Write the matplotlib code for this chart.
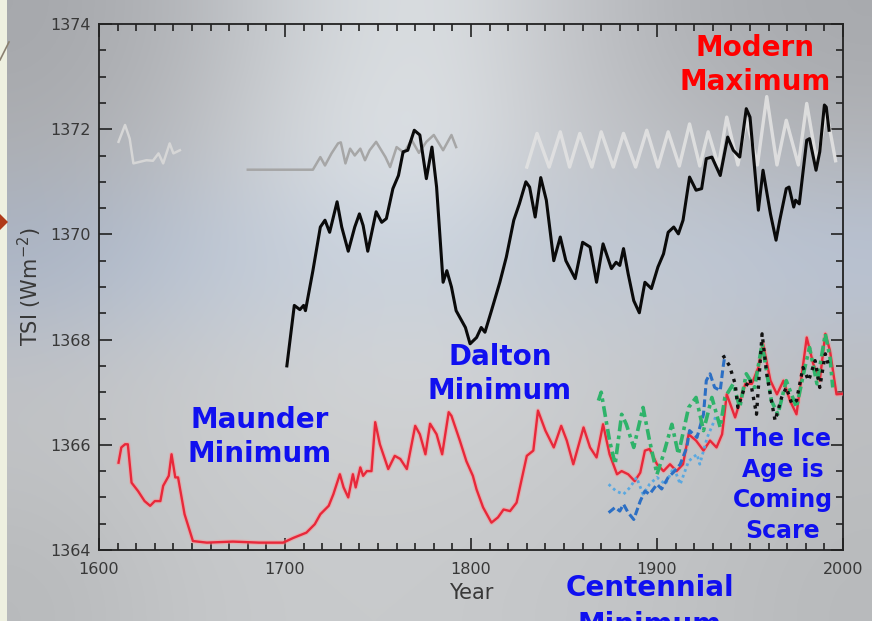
import matplotlib
matplotlib.use("Agg")
import matplotlib.pyplot as plt
import numpy as np
from matplotlib.patches import Rectangle, Polygon
from matplotlib.lines import Line2D

# --- data (year, TSI in W/m2) ---
black_years = [1701, 1705, 1708, 1710, 1711, 1715, 1719, 1721.5, 1724, 1728,
               1730.5, 1734, 1737.5, 1740, 1742, 1744.5, 1749, 1752, 1754.5, 1758,
               1761, 1763.5, 1766, 1769.5, 1772.5, 1776, 1779, 1781.5, 1785, 1787,
               1789.5, 1792, 1797, 1799.5, 1803, 1805.5, 1807.5, 1811, 1815.5, 1819,
               1823, 1826, 1829.5, 1831.5, 1834.5, 1837.5, 1840.5, 1844.5, 1848, 1851,
               1856, 1860, 1864, 1867.5, 1871, 1875.5, 1878, 1880, 1882, 1884.5,
               1887.5, 1890.5, 1893.5, 1897, 1900.5, 1903.5, 1906, 1909, 1911.5, 1914,
               1917.5, 1921, 1924, 1926.5, 1929.5, 1934, 1938, 1941, 1944.5, 1948,
               1950, 1954.5, 1957, 1961, 1964, 1966, 1969.5, 1971, 1973.5, 1974.5,
               1976.5, 1980.5, 1982, 1985.5, 1987.5, 1990, 1991, 1992.5]
black_tsi = [1367.50, 1368.65, 1368.57, 1368.65, 1368.55, 1369.31, 1370.14, 1370.27, 1370.04, 1370.62,
             1370.14, 1369.68, 1370.14, 1370.39, 1370.17, 1369.68, 1370.43, 1370.23, 1370.30, 1370.87,
             1371.12, 1371.57, 1371.60, 1371.98, 1371.89, 1371.06, 1371.66, 1370.90, 1369.09, 1369.31,
             1369.00, 1368.55, 1368.23, 1367.92, 1368.04, 1368.23, 1368.14, 1368.55, 1369.09, 1369.57,
             1370.27, 1370.58, 1371.00, 1370.90, 1370.33, 1371.08, 1370.65, 1369.50, 1369.95, 1369.50,
             1369.16, 1369.85, 1369.76, 1369.09, 1369.82, 1369.35, 1369.47, 1369.41, 1369.73, 1369.25,
             1368.74, 1368.51, 1369.09, 1368.97, 1369.38, 1369.63, 1370.04, 1370.14, 1370.01, 1370.27,
             1371.09, 1370.84, 1370.87, 1371.44, 1371.47, 1371.12, 1371.85, 1371.60, 1371.47, 1372.39,
             1372.23, 1370.46, 1371.22, 1370.39, 1369.89, 1370.27, 1370.87, 1370.90, 1370.52, 1370.65,
             1370.58, 1371.79, 1371.82, 1371.22, 1371.57, 1372.46, 1372.42, 1371.98]

red_years = [1610.5, 1612, 1614, 1615.5, 1617.5, 1621, 1624.5, 1627.5, 1630, 1633,
             1634.5, 1637.5, 1639, 1641, 1642.5, 1646, 1650.5, 1658, 1672, 1686,
             1699, 1704.5, 1711.5, 1716, 1719, 1723.5, 1726, 1729.5, 1731.5, 1734,
             1736.5, 1738, 1740.5, 1742, 1744, 1746.5, 1748.5, 1751, 1755.5, 1759,
             1762, 1765.5, 1770, 1772.5, 1775.5, 1778, 1781.5, 1784.5, 1788, 1789.5,
             1794, 1797.5, 1801, 1803, 1806.5, 1811, 1814.5, 1817.5, 1821, 1824.5,
             1830, 1833.5, 1836, 1840, 1844.5, 1848.5, 1851.5, 1855, 1860.5, 1864,
             1867.5, 1871, 1874.5, 1878.5, 1881, 1884.5, 1888, 1891, 1893.5, 1896,
             1900, 1903.5, 1907, 1910.5, 1914, 1917, 1921, 1925, 1928.5, 1932,
             1935, 1937.5, 1942, 1947.5, 1951, 1954.5, 1957, 1961, 1964.5, 1968,
             1971.5, 1975, 1980.5, 1984, 1987.5, 1990.5, 1993, 1996.5, 2000]
red_tsi = [1365.66, 1365.95, 1366.01, 1366.01, 1365.28, 1365.12, 1364.93, 1364.84, 1364.93, 1364.93,
           1365.22, 1365.41, 1365.82, 1365.38, 1365.38, 1364.68, 1364.17, 1364.14, 1364.16, 1364.14,
           1364.14, 1364.23, 1364.33, 1364.49, 1364.68, 1364.84, 1365.06, 1365.44, 1365.19, 1365.00,
           1365.44, 1365.19, 1365.57, 1365.41, 1365.50, 1365.50, 1366.43, 1366.01, 1365.54, 1365.79,
           1365.73, 1365.54, 1366.36, 1366.20, 1365.82, 1366.40, 1366.20, 1365.82, 1366.62, 1366.55,
           1366.08, 1365.69, 1365.41, 1365.15, 1364.81, 1364.52, 1364.62, 1364.77, 1364.74, 1364.90,
           1365.79, 1365.89, 1366.65, 1366.27, 1365.95, 1366.36, 1366.08, 1365.63, 1366.33, 1365.95,
           1365.76, 1366.39, 1365.82, 1365.44, 1365.50, 1365.44, 1365.31, 1365.47, 1365.89, 1365.92,
           1365.63, 1365.50, 1365.63, 1365.50, 1365.63, 1366.20, 1366.08, 1365.89, 1366.08, 1365.95,
           1366.20, 1366.96, 1366.52, 1367.16, 1367.16, 1367.47, 1367.92, 1367.22, 1366.96, 1367.22,
           1366.84, 1366.58, 1368.04, 1367.54, 1367.22, 1368.11, 1367.79, 1366.96, 1366.97]

green_years = [1868.5, 1870, 1874.5, 1877.5, 1881, 1883.5, 1887.5, 1892.5, 1896, 1900,
               1903.5, 1908, 1911.5, 1917, 1921, 1925, 1929.5, 1934, 1936.5, 1941,
               1944.5, 1948, 1952.5, 1956.5, 1961.5, 1965, 1969.5, 1975, 1979.5, 1982,
               1986, 1990.5, 1993, 1994.5]
green_tsi = [1366.84, 1367.00, 1366.08, 1365.63, 1366.58, 1366.39, 1365.95, 1366.71, 1366.08, 1365.44,
             1365.82, 1366.39, 1365.82, 1366.71, 1366.90, 1366.27, 1366.90, 1366.33, 1366.90, 1367.16,
             1366.71, 1367.35, 1367.09, 1367.92, 1366.84, 1366.58, 1367.22, 1366.71, 1367.47, 1367.85,
             1367.16, 1368.11, 1367.66, 1367.09]

blue_years = [1874, 1877.5, 1880, 1882, 1884.5, 1887.5, 1891, 1893.5, 1896, 1900,
              1902.5, 1906, 1909.5, 1912.5, 1916, 1917.5, 1921.5, 1925, 1926.5, 1928.5,
              1931, 1934, 1935.5, 1936.5]
blue_tsi = [1364.71, 1364.81, 1364.74, 1364.87, 1364.71, 1364.58, 1364.93, 1365.12, 1365.06, 1365.25,
            1365.16, 1365.38, 1365.50, 1365.63, 1365.95, 1366.27, 1366.14, 1366.58, 1367.22, 1367.35,
            1367.09, 1367.03, 1367.47, 1367.70]

ltblue_years = [1874, 1878, 1882, 1885.5, 1889, 1892.5, 1896, 1900, 1904.5, 1909,
                1912.5, 1917, 1921.5, 1923, 1927, 1930, 1932]
ltblue_tsi = [1365.25, 1365.12, 1365.06, 1365.19, 1365.38, 1365.06, 1365.25, 1365.38, 1365.25, 1365.57,
              1365.25, 1365.69, 1365.82, 1365.63, 1366.14, 1366.39, 1366.58]

dotted_years = [1935.5, 1939, 1942, 1943.5, 1946.5, 1950, 1953.5, 1956.5, 1959, 1961.5,
                1963.5, 1967, 1969.5, 1972.5, 1975, 1978.5, 1981.5, 1985, 1987.5, 1990.5, 1992]
dotted_tsi = [1367.70, 1367.50, 1367.16, 1366.71, 1367.03, 1367.25, 1366.58, 1368.11, 1367.35, 1366.84,
              1366.46, 1366.90, 1367.09, 1366.78, 1366.84, 1367.47, 1367.22, 1367.60, 1367.09, 1367.73, 1367.54]

# faint grey reconstructions in the upper part
grey1_years = [1610.5, 1614, 1616.5, 1618.5, 1622, 1625.5, 1629, 1632, 1634.5, 1638, 1640, 1643.5]
grey1_tsi = [1371.76, 1372.08, 1371.82, 1371.35, 1371.38, 1371.41, 1371.40, 1371.54, 1371.35, 1371.73,
             1371.54, 1371.60]

grey2_years = [1680, 1715, 1719, 1721.5, 1725, 1728.5, 1730, 1732.5, 1735, 1737.5,
               1740.5, 1743, 1745.5, 1749, 1754, 1756.5, 1760, 1764, 1768, 1772,
               1776, 1780, 1785, 1789.5, 1792]
grey2_tsi = [1371.23, 1371.23, 1371.47, 1371.31, 1371.54, 1371.73, 1371.75, 1371.35, 1371.63, 1371.50,
             1371.63, 1371.41, 1371.60, 1371.76, 1371.47, 1371.28, 1371.66, 1371.55, 1371.80, 1371.55,
             1371.76, 1371.89, 1371.60, 1371.89, 1371.66]

cycle_years = [1830, 1835.5, 1842, 1848, 1853, 1858.5, 1865, 1870, 1876.5, 1882,
               1888.5, 1894.5, 1900.5, 1906, 1912, 1917.5, 1923, 1927.5, 1933, 1937.5,
               1943.5, 1948, 1954, 1959, 1964.5, 1969.5, 1976, 1980.5, 1986, 1991, 1996]
cycle_tsi = [1371.28, 1371.92, 1371.28, 1371.95, 1371.28, 1371.92, 1371.28, 1371.95, 1371.28, 1371.92,
             1371.28, 1371.98, 1371.28, 1371.95, 1371.30, 1372.10, 1371.30, 1371.95, 1371.30, 1372.23,
             1371.32, 1372.20, 1371.32, 1372.62, 1371.32, 1372.17, 1371.32, 1372.49, 1371.35, 1372.36,
             1371.40]

W, H = 872, 621
fig = plt.figure(figsize=(W / 100, H / 100), dpi=100)

# cloudy photo background, roughly as a coarse colour grid
bg_hex = [
    ["a6a8ac", "b4b6ba", "d0d4d8", "dde1e4", "c4c6ca", "b0b2b6", "a8aaae"],
    ["aeb0b4", "bcbec2", "d8dce0", "e0e4e8", "c8cace", "bcbec2", "b4b6ba"],
    ["a8b4c8", "b8c4d6", "c4cedc", "c8d2de", "bcc6d4", "c0cad8", "b8c4d8"],
    ["c0c2c6", "c8cacc", "d0d2d4", "d4d6d8", "ccced0", "c4c6ca", "bcbec2"],
    ["c0c2c4", "c8cacc", "cccecf", "ccced0", "c8cacc", "c4c6c8", "bcbec0"],
    ["b8babc", "c4c6c8", "c8cacc", "c8cacc", "c4c6c8", "c0c2c4", "b8babc"],
]
bg = np.array([[[int(h[i:i + 2], 16) / 255 for i in (0, 2, 4)] for h in row] for row in bg_hex])
bg_ax = fig.add_axes([0, 0, 1, 1], zorder=-10)
bg_ax.imshow(bg, aspect="auto", interpolation="bicubic", extent=[0, 1, 0, 1])
bg_ax.set_axis_off()

# slide decoration on the left edge
fig.patches.append(Rectangle((0, 0), 7 / W, 1, transform=fig.transFigure,
                             facecolor="#eef0e0", edgecolor="none", zorder=5))
fig.patches.append(Polygon([(0, 1 - 214 / H), (8 / W, 1 - 222 / H), (0, 1 - 230 / H)],
                           transform=fig.transFigure, facecolor="#b03a18",
                           edgecolor="none", zorder=6))
fig.lines.append(Line2D([0, 9 / W], [1 - 60 / H, 1 - 42 / H], transform=fig.transFigure,
                        color="#8a8070", lw=1.2, zorder=6))

ax = fig.add_axes([99 / W, 1 - 550 / H, (843 - 99) / W, (550 - 24) / H])
ax.set_facecolor("none")

ax.plot(grey1_years, grey1_tsi, color="#d6d6d6", lw=1.8, zorder=2)
ax.plot(grey2_years, grey2_tsi, color="#a6a6a6", lw=1.8, zorder=2)
ax.plot(cycle_years, cycle_tsi, color="#e2e2e2", lw=2.4, alpha=0.9, zorder=2)

ax.plot(black_years, black_tsi, color="#0a0a0a", lw=2.2, zorder=4)

ax.plot(red_years, red_tsi, color="#ff9090", lw=3.4, alpha=0.45, zorder=3)
ax.plot(red_years, red_tsi, color="#e8283a", lw=1.7, zorder=4)

ax.plot(ltblue_years, ltblue_tsi, color="#5aa8e0", lw=2.0, ls=(0, (1, 1.2)), zorder=5)
ax.plot(blue_years, blue_tsi, color="#2c6fc4", lw=2.2, ls=(0, (2.5, 1.2)), zorder=5)
ax.plot(green_years, green_tsi, color="#2fb36a", lw=2.6, ls=(0, (3, 1.2, 1, 1.2)), zorder=6)
ax.plot(dotted_years, dotted_tsi, color="#111111", lw=2.4, ls=(0, (1, 1.6)), zorder=7)

ax.set_xlim(1600, 2000)
ax.set_ylim(1364, 1374)
ax.set_xticks([1600, 1700, 1800, 1900, 2000])
ax.set_yticks([1364, 1366, 1368, 1370, 1372, 1374])
ax.set_xticks(np.arange(1600, 2001, 10), minor=True)
ax.set_yticks(np.arange(1364, 1374.01, 0.5), minor=True)
ax.tick_params(which="both", direction="in", top=True, right=True, color="#222222",
               labelcolor="#383838", labelsize=11.5, width=1.2)
ax.tick_params(which="major", length=9)
ax.tick_params(which="minor", length=5)
ax.tick_params(axis="x", pad=9)
ax.tick_params(axis="y", pad=6)
for s in ax.spines.values():
    s.set_color("#222222")
    s.set_linewidth(1.3)

ax.set_xlabel("Year", fontsize=15, color="#383838", labelpad=4)
ax.set_ylabel("TSI (Wm$^{-2}$)", fontsize=15, color="#383838", labelpad=4)

# annotations
txt = dict(ha="center", va="center", fontweight="bold", family="DejaVu Sans",
           multialignment="center")
fig.text(755 / W, 1 - 65 / H, "Modern\nMaximum", color="#ff0000", fontsize=20,
         linespacing=1.3, **txt)
fig.text(260 / W, 1 - 437 / H, "Maunder\nMinimum", color="#1010f0", fontsize=20,
         linespacing=1.3, **txt)
fig.text(500 / W, 1 - 374 / H, "Dalton\nMinimum", color="#1010f0", fontsize=20,
         linespacing=1.3, **txt)
fig.text(783 / W, 1 - 485 / H, "The Ice\nAge is\nComing\nScare", color="#1010f0",
         fontsize=17, linespacing=1.35, **txt)
# second line runs off the bottom of the slide, as in the original
fig.text(650 / W, 1 - 585 / H, "Centennial\nMinimum", color="#1010f0", fontsize=20,
         linespacing=1.4, ha="center", va="baseline", fontweight="bold",
         family="DejaVu Sans", multialignment="center",
         transform=fig.transFigure).set_y(1 - 633 / H)

fig.savefig("out.png", dpi=100)
